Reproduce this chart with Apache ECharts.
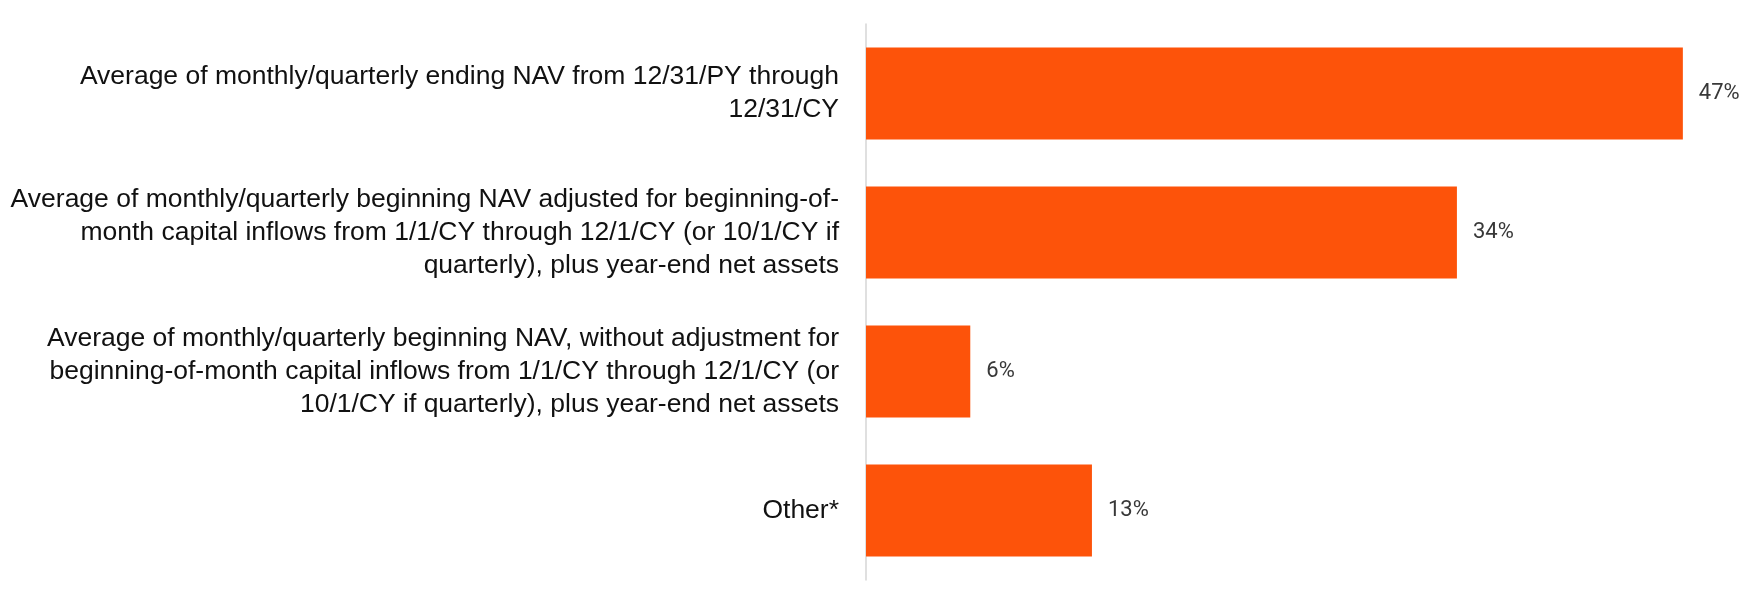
<!DOCTYPE html>
<html>
<head>
<meta charset="utf-8">
<script src="https://cdn.jsdelivr.net/npm/echarts@6/dist/echarts.min.js"></script>
<style>
  html, body { margin: 0; padding: 0; background: #ffffff; }
  #chart { width: 1750px; height: 591px; }
</style>
</head>
<body>
<div id="chart"></div>
<script>
// Methods used to compute average net assets
const categories = [
  'Average of monthly/quarterly ending NAV from 12/31/PY through\n12/31/CY',
  'Average of monthly/quarterly beginning NAV adjusted for beginning-of-\nmonth capital inflows from 1/1/CY through 12/1/CY (or 10/1/CY if\nquarterly), plus year-end net assets',
  'Average of monthly/quarterly beginning NAV, without adjustment for\nbeginning-of-month capital inflows from 1/1/CY through 12/1/CY (or\n10/1/CY if quarterly), plus year-end net assets',
  'Other*'
];
const shares = [47, 34, 6, 13];

// single-line labels sit slightly below the bar centre
const categoryItems = categories.map(function (name) {
  return name.indexOf('\n') < 0
    ? { value: name, textStyle: { padding: [10, 0, 0, 0] } }
    : name;
});

const chart = echarts.init(document.getElementById('chart'), null, { renderer: 'canvas' });

chart.setOption({
  animation: false,
  backgroundColor: '#ffffff',
  grid: { left: 866, right: 15, top: 24, bottom: 11, containLabel: false },
  xAxis: {
    type: 'value',
    min: 0,
    max: 50,
    show: false,
    splitLine: { show: false }
  },
  yAxis: {
    type: 'category',
    data: categoryItems,
    inverse: true,
    axisLine: { show: true, lineStyle: { color: '#d6d6d6', width: 1.5 } },
    axisTick: { show: false },
    axisLabel: {
      margin: 27,
      color: '#111111',
      fontFamily: '"Liberation Sans", Arial, sans-serif',
      fontSize: 26.5,
      lineHeight: 33,
      align: 'right'
    }
  },
  series: [{
    type: 'bar',
    data: shares,
    barWidth: 92,
    itemStyle: { color: '#fd530a' },
    label: {
      show: true,
      position: 'right',
      distance: 16,
      formatter: '{c}%',
      color: '#383838',
      fontFamily: 'Roboto, "Liberation Sans", sans-serif',
      fontSize: 22
    }
  }]
});
</script>
</body>
</html>
